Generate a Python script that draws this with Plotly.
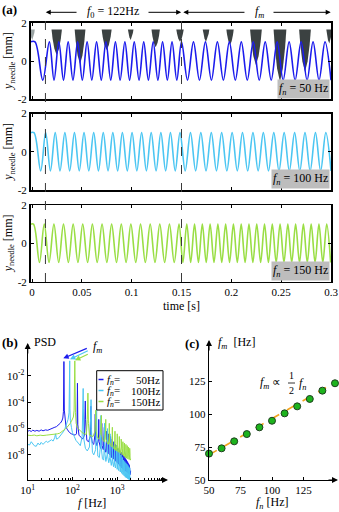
import plotly.graph_objects as go

W, H = 339, 512
SERIF = "Liberation Serif"

# ---------------- data: panel (a) needle displacement ----------------
fn_values = [50, 100, 150]
line_colors = ["#1c1ced", "#4cc6f2", "#9ade45"]
t_f0_start = 0.0135
t_switch = 0.15
t_end = 0.3
f0_text = "122Hz"

# extremum times [s] and values [mm]
needle_t_50 = [-0.0015, 0.003, 0.0108,
               0.0174, 0.0221, 0.0269, 0.0316, 0.0363, 0.0411, 0.0458, 0.0505, 0.0553, 0.0600,
               0.0648, 0.0695, 0.0742, 0.0790, 0.0837, 0.0884, 0.0932, 0.0979, 0.1026, 0.1074,
               0.1121, 0.1168, 0.1216, 0.1263, 0.1310, 0.1358, 0.1405, 0.1453, 0.1500,
               0.1560, 0.1620, 0.1680, 0.1740, 0.1800, 0.1860, 0.1920, 0.1980, 0.2040, 0.2100,
               0.2160, 0.2220, 0.2280, 0.2340, 0.2400, 0.2460, 0.2520, 0.2580, 0.2640, 0.2700,
               0.2760, 0.2820, 0.2880, 0.2940, 0.3000]
needle_y_50 = [1, 1, -1,
               1, -1, 1, -1, 1, -1, 1, -1, 1, -1, 1, -1, 1, -1, 1, -1, 1, -1, 1, -1, 1, -1, 1, -1, 1, -1, 1, -1, 1,
               -1, 1, -1, 1, -1, 1, -1, 1, -1, 1, -1, 1, -1, 1, -1, 1, -1, 1, -1, 1, -1, 1, -1, 1, -1]

needle_t_100 = [-0.0015, 0.002, 0.0087,
                0.0137, 0.0185, 0.0233, 0.0281, 0.0330, 0.0378, 0.0426, 0.0474, 0.0522, 0.0570,
                0.0619, 0.0667, 0.0715, 0.0763, 0.0811, 0.0859, 0.0907, 0.0956, 0.1004, 0.1052,
                0.1100, 0.1148, 0.1196, 0.1245, 0.1293, 0.1341, 0.1389, 0.1437, 0.1485,
                0.1537, 0.1590, 0.1642, 0.1694, 0.1746, 0.1799, 0.1851, 0.1903, 0.1955, 0.2008,
                0.2060, 0.2112, 0.2164, 0.2217, 0.2269, 0.2321, 0.2373, 0.2426, 0.2478, 0.2530,
                0.2582, 0.2635, 0.2687, 0.2739, 0.2791, 0.2844, 0.2896, 0.2948, 0.3000]
needle_y_100 = [1, 1, -1,
                1, -1, 1, -1, 1, -1, 1, -1, 1, -1, 1, -1, 1, -1, 1, -1, 1, -1, 1, -1, 1, -1, 1, -1, 1, -1, 1, -1, 1,
                -1, 1, -1, 1, -1, 1, -1, 1, -1, 1, -1, 1, -1, 1, -1, 1, -1, 1, -1, 1, -1, 1, -1, 1, -1, 1, -1, 1, -1]

needle_t_150 = [-0.0015, 0.0015, 0.0075,
                0.0123, 0.0171, 0.0220, 0.0268, 0.0316, 0.0365, 0.0413, 0.0461, 0.0509, 0.0558,
                0.0606, 0.0654, 0.0703, 0.0751, 0.0799, 0.0848, 0.0896, 0.0944, 0.0992, 0.1041,
                0.1089, 0.1137, 0.1186, 0.1234, 0.1282, 0.1331, 0.1379, 0.1427, 0.1475,
                0.1514, 0.1553, 0.1592, 0.1631, 0.1670, 0.1709, 0.1748, 0.1787, 0.1826, 0.1865,
                0.1904, 0.1943, 0.1982, 0.2021, 0.2060, 0.2099, 0.2138, 0.2177, 0.2216, 0.2255,
                0.2294, 0.2333, 0.2372, 0.2411, 0.2450, 0.2489, 0.2528, 0.2567, 0.2606, 0.2645,
                0.2684, 0.2723, 0.2762, 0.2801, 0.2840, 0.2879, 0.2918, 0.2957, 0.2996]
needle_y_150 = [1, 1, -1,
                1, -1, 1, -1, 1, -1, 1, -1, 1, -1, 1, -1, 1, -1, 1, -1, 1, -1, 1, -1, 1, -1, 1, -1, 1, -1, 1, -1, 1,
                -1, 1, -1, 1, -1, 1, -1, 1, -1, 1, -1, 1, -1, 1, -1, 1, -1, 1, -1, 1, -1, 1, -1, 1, -1,
                1, -1, 1, -1, 1, -1, 1, -1, 1, -1, 1, -1, 1, -1]

# grey droplet wedges in the top panel: centre time, half width, tip depth
wedge_t = [0.0003, 0.0248, 0.0482, 0.0749, 0.0990, 0.1241, 0.1485, 0.1746, 0.1987, 0.2247, 0.2488, 0.2739, 0.2983]
wedge_halfwidth = [0.0025, 0.0052, 0.0054, 0.0050, 0.0028, 0.0042, 0.0037, 0.0033, 0.0037, 0.0059, 0.0064, 0.0059, 0.0030]
wedge_tip = [1.10, 0.31, -0.16, 0.57, 1.10, 0.72, 1.00, 1.00, 0.84, -0.21, -1.08, -0.56, 0.92]
wedge_top = 1.65
wedge_colors = ["#9aa3a3"] + ["#3b4141"] * 12

# ---------------- data: panel (b) PSD ----------------
psd_50_f = [10, 11, 12, 13, 14.5, 16, 18, 20, 22, 25, 28, 31, 35, 39, 44, 49, 54, 58, 61, 63, 64.5, 66, 68, 72, 78, 86, 95, 105, 115, 123,
            127, 129.5, 132, 140, 155, 170, 186, 192, 194, 197, 210, 230, 250, 256, 259, 263, 280, 300, 318, 324, 330, 355,
            382, 388, 395, 425, 448, 453, 460, 490, 512, 518, 525, 555, 578, 583, 590, 620, 643, 648, 655, 685, 708, 713, 720,
            750, 773, 778, 785, 815, 838, 842, 850, 880, 903, 907, 915, 945, 968, 972, 980, 1010, 1037, 1045, 1075, 1102, 1110,
            1140, 1167, 1175, 1205, 1232, 1240, 1270, 1297, 1305, 1335, 1362, 1370, 1400, 1427, 1435, 1465, 1492, 1500, 1530,
            1557, 1565, 1595, 1622, 1630, 1660, 1687, 1695, 1725, 1752, 1760, 1790, 1817, 1825, 1855, 1882, 1890, 1920, 1947,
            1955, 1985, 2000]
psd_50_log10 = [-6.2, -6.15, -6.22, -6.12, -6.2, -6.14, -6.2, -6.1, -6.17, -6.1, -6.13, -6.05, -6.0, -5.92, -5.85, -5.72, -5.58, -5.42, -5.2, -4.7, -0.9, -4.6, -5.4, -5.9, -6.1, -6.3, -6.4, -6.45, -6.5, -6.4,
                -5.6, -2.55, -5.7, -6.5, -6.7, -6.8, -6.5, -5.0, -3.9, -5.3, -6.9, -7.0, -6.6, -4.6, -4.3, -6.6, -7.1, -7.2, -6.5, -4.9, -6.9, -7.3,
                -6.8, -5.3, -7.0, -7.5, -6.6, -5.6, -7.3, -7.6, -6.8, -5.9, -7.5, -7.8, -6.9, -6.2, -7.7, -7.9, -7.0, -6.4, -7.9, -8.0, -7.2, -6.6, -8.0,
                -8.2, -7.3, -6.8, -8.2, -8.3, -7.4, -7.0, -8.3, -8.4, -7.5, -7.2, -8.4, -8.5, -7.6, -7.3, -8.5, -8.6, -7.5, -8.6, -8.7, -7.6, -8.7,
                -8.8, -7.7, -8.8, -8.9, -7.8, -8.9, -9.0, -7.9, -9.0, -9.05, -8.0, -9.1, -9.1, -8.1, -9.15, -9.15, -8.2, -9.2, -9.2,
                -8.3, -9.25, -9.25, -8.4, -9.3, -9.3, -8.5, -9.35, -9.35, -8.6, -9.4, -9.4, -8.7, -9.45, -9.45, -8.8, -9.5, -9.5, -8.9,
                -9.5, -9.4, -9.2]

psd_100_f = [10, 11, 12, 13, 14, 15.5, 17, 18.5, 20, 22, 24, 26, 28, 31, 34, 37, 40, 42, 44, 48, 52, 56, 60, 64, 68, 72, 76, 80, 84, 86, 87, 88, 90, 95,
             100, 110, 120, 135, 150, 165, 172, 174, 176, 180, 195, 215, 240, 255, 261, 266, 280, 300, 330, 343, 348, 352, 370, 400,
             425, 432, 435, 440, 470, 500, 515, 522, 528, 560, 595, 609, 615, 650, 685, 696, 703, 740, 775, 783, 790, 830, 862, 870,
             878, 915, 950, 957, 965, 1000, 1037, 1044, 1052, 1090, 1124, 1131, 1139, 1175, 1211, 1218, 1226, 1260, 1298, 1305, 1313,
             1350, 1385, 1392, 1400, 1440, 1472, 1479, 1487, 1525, 1560, 1566, 1574, 1610, 1646, 1653, 1661, 1700, 1733, 1740, 1748,
             1785, 1820, 1827, 1835, 1870, 1905, 1914, 1922, 1960, 2000]
psd_100_log10 = [-7.2, -7.25, -7.0, -7.15, -7.3, -7.35, -7.1, -7.25, -7.05, -7.2, -7.1, -6.95, -7.05, -6.95, -6.85, -6.95, -6.7, -6.4, -6.8, -6.75, -6.6, -6.5, -6.3, -6.2, -6.0, -5.8, -5.6, -5.3, -4.8, -3.5, -0.85, -4.5, -5.4, -5.9,
                 -6.3, -6.6, -6.9, -7.1, -7.3, -6.6, -4.0, -2.95, -4.5, -6.8, -7.5, -7.7, -7.4, -5.2, -3.8, -6.0, -7.8, -8.0, -7.6, -5.5, -4.5, -6.5, -8.1, -8.2,
                 -7.2, -5.8, -5.0, -7.4, -8.3, -8.4, -7.3, -5.6, -7.8, -8.5, -8.0, -6.0, -8.1, -8.6, -8.2, -6.4, -8.3, -8.8, -8.3, -6.7, -8.5, -8.9, -8.4, -7.0,
                 -8.7, -9.0, -8.5, -7.3, -8.9, -9.1, -8.6, -7.6, -9.0, -9.2, -8.7, -7.8, -9.1, -9.3, -8.8, -8.0, -9.25, -9.4, -8.9, -8.2, -9.35,
                 -9.5, -9.0, -8.4, -9.45, -9.6, -9.1, -8.5, -9.55, -9.7, -9.2, -8.6, -9.65, -9.75, -9.25, -8.7, -9.7, -9.8, -9.3, -8.8, -9.8,
                 -9.85, -9.4, -8.9, -9.85, -9.9, -9.5, -9.0, -9.9, -9.9, -9.7]

psd_150_f = [10, 12, 14, 16, 19, 22, 26, 30, 35, 40, 46, 52, 58, 64, 70, 76, 82, 88, 94, 100, 105, 109, 113, 117, 121, 130, 145, 165, 185, 205,
             215, 222, 228, 240, 260, 290, 318, 333, 340, 360, 390, 425, 445, 452, 480, 520, 545, 556, 563, 600, 640, 660, 668, 675,
             720, 760, 775, 781, 788, 830, 875, 888, 894, 900, 950, 1000, 1006, 1013, 1060, 1112, 1119, 1126, 1175, 1225, 1232, 1240,
             1290, 1338, 1345, 1352, 1400, 1452, 1458, 1465, 1515, 1565, 1571, 1578, 1625, 1678, 1684, 1691, 1740, 1790, 1797, 1804,
             1850, 1903, 1910, 1917, 1960, 2000]
psd_150_log10 = [-6.5, -6.53, -6.49, -6.55, -6.5, -6.53, -6.5, -6.48, -6.47, -6.45, -6.4, -6.35, -6.25, -6.15, -6.02, -5.9, -5.78, -5.63, -5.48, -5.32, -5.12, -4.6, -0.85, -4.8, -5.6, -5.95, -6.15, -6.3, -6.4, -6.45,
                 -5.3, -3.3, -5.6, -6.5, -6.55, -6.6, -6.2, -4.6, -6.2, -6.7, -6.8, -6.3, -5.0, -6.5, -6.9, -7.0, -6.4, -5.3, -6.8, -7.1, -7.2, -6.6, -5.6, -7.0,
                 -7.3, -7.4, -6.8, -5.9, -7.2, -7.5, -7.6, -7.0, -6.2, -7.4, -7.7, -7.2, -6.4, -7.6, -7.8, -7.3, -6.6, -7.7, -7.9, -7.4, -6.8, -7.8,
                 -8.0, -7.5, -7.0, -7.9, -8.1, -7.6, -7.1, -8.0, -8.2, -7.7, -7.2, -8.1, -8.25, -7.8, -7.3, -8.2, -8.3, -7.9, -7.4, -8.25,
                 -8.35, -8.0, -7.5, -8.3, -8.4, -8.3]

# ---------------- data: panel (c) fm vs fn ----------------
fn_sweep = [50, 60, 70, 80, 90, 100, 110, 120, 130, 140, 150]
fm_sweep = [70.0, 74.0, 79.3, 84.8, 89.9, 94.9, 100.5, 105.8, 111.4, 117.7, 123.3]
fit_fn = [50, 150]
fit_fm = [69.0, 124.0]


def px(x):
    return x / W


def py(y):
    return 1 - y / H


fig = go.Figure()

# ---- panel (a) ----
axes_a = [("x", "y"), ("x2", "y2"), ("x3", "y3")]
for i, (xa, ya) in enumerate(axes_a):
    if i == 0:
        for tc, hw, tip, col in zip(wedge_t, wedge_halfwidth, wedge_tip, wedge_colors):
            d = wedge_top - tip
            xs = [tc - hw, tc + hw, tc + 0.8 * hw, tc + 0.45 * hw, tc, tc - 0.45 * hw, tc - 0.8 * hw, tc - hw]
            ys = [wedge_top, wedge_top, wedge_top - 0.35 * d, wedge_top - 0.75 * d, tip,
                  wedge_top - 0.75 * d, wedge_top - 0.35 * d, wedge_top]
            fig.add_trace(go.Scatter(x=xs, y=ys, xaxis=xa, yaxis=ya, mode="lines", fill="toself",
                                     fillcolor=col, line=dict(width=0, color=col), hoverinfo="skip",
                                     showlegend=False))
    tt = [needle_t_50, needle_t_100, needle_t_150][i]
    yy = [needle_y_50, needle_y_100, needle_y_150][i]
    fig.add_trace(go.Scatter(x=tt, y=yy, xaxis=xa, yaxis=ya, mode="lines",
                             line=dict(color=line_colors[i], width=1.6, shape="spline", smoothing=1),
                             showlegend=False))

# ---- panel (b) ----
for i, (ff, pl) in enumerate([(psd_50_f, psd_50_log10), (psd_100_f, psd_100_log10), (psd_150_f, psd_150_log10)]):
    fig.add_trace(go.Scatter(x=ff, y=[10 ** v for v in pl], xaxis="x4", yaxis="y4", mode="lines",
                             line=dict(color=line_colors[i], width=1), showlegend=False))

# ---- panel (c) ----
fig.add_trace(go.Scatter(x=fit_fn, y=fit_fm, xaxis="x5", yaxis="y5", mode="lines",
                         line=dict(color="#f2a51e", width=1.6, dash="dash"), showlegend=False))
fig.add_trace(go.Scatter(x=fn_sweep, y=fm_sweep, xaxis="x5", yaxis="y5", mode="markers", cliponaxis=False,
                         marker=dict(color="#1db31d", size=7, line=dict(color="#1f3f1f", width=1)),
                         showlegend=False))

tickfont = dict(family=SERIF, size=11, color="black")

# layout axes
dom_x_a = [px(30.5), px(331)]
panel_y_px = [(22.7, 99.3), (113.5, 190.0), (205.0, 281.7)]
layout = dict(
    width=W, height=H, margin=dict(l=0, r=0, t=0, b=0, autoexpand=False),
    paper_bgcolor="white", plot_bgcolor="white",
    font=dict(family=SERIF, size=11, color="black"),
)
common = dict(showgrid=False, zeroline=False, automargin=False, tickcolor="black", linecolor="black",
              tickfont=tickfont, showline=True)
for i in range(3):
    sx = "" if i == 0 else str(i + 1)
    layout["xaxis" + sx] = dict(
        domain=dom_x_a, range=[-0.0015, t_end], anchor="y" + sx,
        tickvals=[0, 0.05, 0.1, 0.15, 0.2, 0.25, 0.3],
        ticktext=["0", "0.05", "0.1", "0.15", "0.2", "0.25", "0.3"],
        showticklabels=(i == 2), ticks="inside", ticklen=3,
        linewidth=1.5, mirror="ticks", **common
    )
    top, bot = panel_y_px[i]
    layout["yaxis" + sx] = dict(
        domain=[py(bot), py(top)], range=[-2, 2], anchor="x" + sx,
        tickvals=[-2, 0, 2], ticktext=["-2", "0", "2"], ticks="inside", ticklen=3,
        linewidth=1.5, mirror="ticks", **common
    )

layout["xaxis4"] = dict(
    domain=[px(27.7), px(165)], type="log", range=[1, 4.07], anchor="y4",
    tickvals=[10, 100, 1000], ticktext=["10<sup>1</sup>", "10<sup>2</sup>", "10<sup>3</sup>"],
    ticks="inside", ticklen=3,
    minor=dict(ticks="inside", ticklen=2, tickcolor="black", dtick="D1", showgrid=False),
    linewidth=1.2, **common
)
layout["yaxis4"] = dict(
    domain=[py(480), py(346)], type="log", range=[-9.91, 0.28], anchor="x4",
    tickvals=[1e-8, 1e-6, 1e-4, 1e-2],
    ticktext=["10<sup>-8</sup>", "10<sup>-6</sup>", "10<sup>-4</sup>", "10<sup>-2</sup>"],
    ticks="inside", ticklen=3, linewidth=1.2, **common
)
layout["xaxis5"] = dict(
    domain=[px(209), px(336)], range=[50, 150.8], anchor="y5",
    tickvals=[50, 75, 100, 125], ticktext=["50", "75", "100", "125"], ticks="inside", ticklen=3,
    linewidth=1.2, **common
)
layout["yaxis5"] = dict(
    domain=[py(480), py(343)], range=[50, 153.8], anchor="x5",
    tickvals=[50, 75, 100, 125], ticktext=["50", "75", "100", "125"], ticks="inside", ticklen=3,
    linewidth=1.2, **common
)
fig.update_layout(**layout)

# dashed segment markers
shapes = []
for tv in [t_f0_start, t_switch]:
    shapes.append(dict(type="line", xref="x", yref="paper", x0=tv, x1=tv, y0=py(282), y1=py(14),
                       line=dict(color="#3a3a3a", width=1, dash="dash")))

# manual legend for (b)
shapes.append(dict(type="rect", xref="paper", yref="paper", x0=px(96.7), x1=px(163), y0=py(410), y1=py(370.7),
                   line=dict(color="black", width=1), fillcolor="white", layer="above"))
leg_y = [379.5, 390.5, 401.5]
for i in range(3):
    shapes.append(dict(type="line", xref="paper", yref="paper", x0=px(98.5), x1=px(103.5), y0=py(leg_y[i]),
                       y1=py(leg_y[i]), line=dict(color=line_colors[i], width=1.5), layer="above"))

# axis arrows
ann = []


def arrow(x_tip, y_tip, dx, dy, color="black", width=1.2, size=1.0, xref="paper", yref="paper"):
    ann.append(dict(x=x_tip, y=y_tip, xref=xref, yref=yref, ax=dx, ay=dy, axref="pixel", ayref="pixel",
                    showarrow=True, arrowhead=2, arrowsize=size, arrowwidth=width, arrowcolor=color, text="",
                    standoff=0, startstandoff=0))


arrow(px(168), py(480), -12, 0)
arrow(px(27.7), py(343), 0, 12)
arrow(px(339), py(480), -12, 0)
arrow(px(209), py(340), 0, 12)

# f_m arrows to the peaks
fm_tips = [(63.3, 358.3, 25, -10.6), (70, 359.3, 19.3, -9.3), (75, 360.3, 14.3, -6.7)]
for i, (xt, yt, dx, dy) in enumerate(fm_tips):
    arrow(px(xt), py(yt), dx, dy, color=line_colors[i], width=1.2, size=0.9)

# top double-arrows in (a)
y_top = py(12.3)
for tip, tail in [(t_f0_start + 0.0003, 0.0462), (t_switch - 0.0003, 0.1154),
                  (t_switch + 0.0018, 0.2147), (t_end - 0.0003, 0.2408)]:
    ann.append(dict(x=tip, y=y_top, xref="x", yref="paper", ax=tail, ay=0, axref="x", ayref="pixel",
                    showarrow=True, arrowhead=2, arrowsize=1, arrowwidth=1, arrowcolor="black", text="",
                    standoff=0, startstandoff=0))


def text(x, y, s, size=12, xanchor="center", yanchor="middle", **kw):
    d = dict(x=x, y=y, xref="paper", yref="paper", text=s, showarrow=False, xanchor=xanchor, yanchor=yanchor,
             font=dict(family=SERIF, size=size, color="black"))
    d.update(kw)
    ann.append(d)


text(0.0808, y_top, "<i>f</i><sub>0</sub> = " + f0_text, size=12, xref="x")
text(0.2278, y_top, "<i>f<sub>m</sub></i>", size=12, xref="x")
text(0, py(9), "<b>(a)</b>", size=13, xanchor="left")
text(0, py(342), "<b>(b)</b>", size=13, xanchor="left")
text(px(183), py(343), "<b>(c)</b>", size=13, xanchor="left")
text(px(32), py(342), "PSD", size=12, xanchor="left")
text(px(91), py(347), "<i>f<sub>m</sub></i>", size=12, xanchor="left")
text(px(181), py(306), "time [s]", size=12)
text(px(92), py(503), "<i>f</i> [Hz]", size=12)
text(px(272), py(503), "<i>f<sub>n</sub></i> [Hz]", size=12)
text(px(216), py(343), "<i>f<sub>m</sub></i>  [Hz]", size=12, xanchor="left")

# proportionality annotation
text(px(270), py(383), "<i>f<sub>m</sub></i> ∝", size=12)
text(px(291.5), py(375.5), "1", size=10)
text(px(291.5), py(390.5), "2", size=10)
shapes.append(dict(type="line", xref="paper", yref="paper", x0=px(288), x1=px(295), y0=py(383), y1=py(383),
                   line=dict(color="black", width=0.8)))
text(px(303), py(384), "<i>f<sub>n</sub></i>", size=12)

# y titles panel (a)
for top, bot in panel_y_px:
    text(px(9), py((top + bot) / 2), "<i>y</i><sub>needle</sub> [mm]", size=12, textangle=-90)

# f_n boxes
for i, (top, bot) in enumerate(panel_y_px):
    ann.append(dict(x=px(330.3), y=py(bot - 0.7), xref="paper", yref="paper",
                    text="<i>f<sub>n</sub></i> = %d Hz" % fn_values[i], showarrow=False,
                    xanchor="right", yanchor="bottom", bgcolor="#bdbdbd", borderpad=1,
                    font=dict(family=SERIF, size=12, color="black")))

# legend text
for i in range(3):
    text(px(104.5), py(leg_y[i]), "<i>f<sub>n</sub></i>=", size=11, xanchor="left")
    text(px(161.5), py(leg_y[i]), "%dHz" % fn_values[i], size=11, xanchor="right")

fig.update_layout(shapes=shapes, annotations=ann)
fig.write_html("out.html", config={"displayModeBar": False, "staticPlot": True},
               post_script="document.body.style.margin='0';document.body.style.overflow='hidden';")
